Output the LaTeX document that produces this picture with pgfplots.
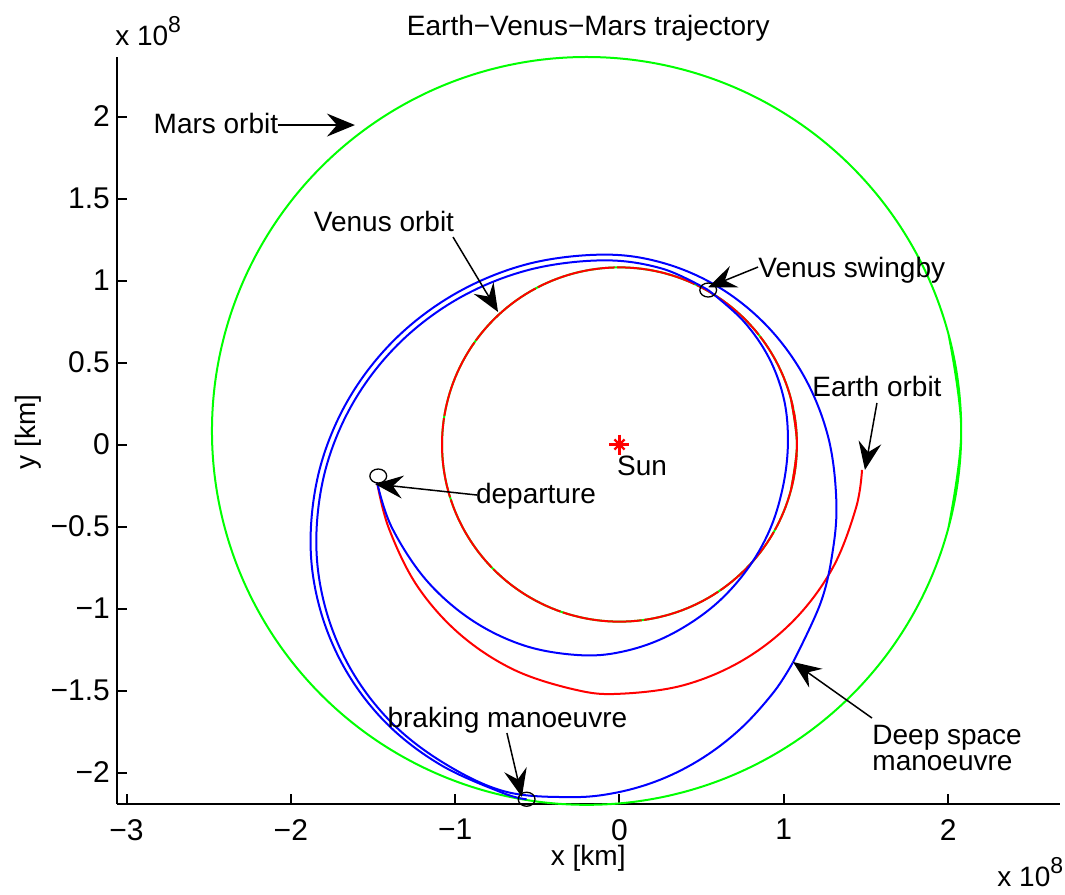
\documentclass[border=0pt]{standalone}
\usepackage{fontspec}
\setmainfont{Liberation Sans}
\usepackage{pgfplots}
\pgfplotsset{compat=1.18}
\usetikzlibrary{arrows.meta}
\newcommand\F{\fontsize{14}{16.5}\selectfont}
\newcommand\T{\fontsize{15}{17}\selectfont}
\newcommand\tenE{x 10\raisebox{6.5pt}{\fontsize{11.5}{11.5}\selectfont 8}}
\definecolor{mgreen}{RGB}{0,255,0}
\definecolor{mred}{RGB}{255,0,0}
\definecolor{mblue}{RGB}{0,0,255}
\tikzset{ann/.style={line width=0.75pt, black, -{Stealth[length=14pt,width=11.5pt,inset=5pt]}}}
\begin{document}
\begin{tikzpicture}[font=\F]
\useasboundingbox (-58.5pt,-45pt) rectangle (474pt,402pt);
\begin{axis}[
  scale only axis, width=471.5pt, height=373.5pt,
  xmin=-3.058, xmax=2.681, ymin=-2.192, ymax=2.363,
  axis x line*=bottom, axis y line*=left,
  axis line style={line width=1.1pt, black},
  tick align=inside, major tick length=5pt,
  tick style={black, line width=1pt},
  xtick={-3,-2,-1,0,1,2}, xticklabels={−3,−2,−1,0,1,2},
  ytick={-2,-1.5,-1,-0.5,0,0.5,1,1.5,2},
  yticklabels={−2,−1.5,−1,−0.5,0,0.5,1,1.5,2},
  xticklabel style={yshift=-4pt},
  tick label style={font=\T},
  scaled ticks=false,
  clip=false,
]
% Mars orbit
\addplot[mgreen, line width=1pt, smooth, tension=0.61] coordinates {
(2.0023,-0.5071) (2.08,0.083) (2.0023,0.6731) (1.7745,1.223) (1.4122,1.6952) (0.94,2.0575) (0.3901,2.2853)
(-0.2,2.363) (-0.7901,2.2853) (-1.34,2.0575) (-1.8122,1.6952) (-2.1745,1.223) (-2.4023,0.6731)
(-2.48,0.083) (-2.4023,-0.5071) (-2.1745,-1.057) (-1.8122,-1.5292) (-1.34,-1.8915) (-0.7901,-2.1193)
(-0.2,-2.197) (0.3901,-2.1193) (0.94,-1.8915) (1.4122,-1.5292) (1.7745,-1.057) (2.0023,-0.5071) (2.08,0.083)
(2.0023,0.6731)};
% Venus orbit (green under red)
\addplot[mgreen, line width=1pt, smooth, tension=0.61] coordinates {
(1.0432,-0.2795) (1.08,0) (1.0432,0.2795) (0.9353,0.54) (0.7637,0.7637) (0.54,0.9353) (0.2795,1.0432) (0,1.08)
(-0.2795,1.0432) (-0.54,0.9353) (-0.7637,0.7637) (-0.9353,0.54) (-1.0432,0.2795) (-1.08,0)
(-1.0432,-0.2795) (-0.9353,-0.54) (-0.7637,-0.7637) (-0.54,-0.9353) (-0.2795,-1.0432) (0,-1.08)
(0.2795,-1.0432) (0.54,-0.9353) (0.7637,-0.7637) (0.9353,-0.54) (1.0432,-0.2795) (1.08,0) (1.0432,0.2795)};
\addplot[mred, line width=1pt, smooth, tension=0.61, dash pattern=on 40pt off 1.2pt] coordinates {
(1.0432,-0.2795) (1.08,0) (1.0432,0.2795) (0.9353,0.54) (0.7637,0.7637) (0.54,0.9353) (0.2795,1.0432) (0,1.08)
(-0.2795,1.0432) (-0.54,0.9353) (-0.7637,0.7637) (-0.9353,0.54) (-1.0432,0.2795) (-1.08,0)
(-1.0432,-0.2795) (-0.9353,-0.54) (-0.7637,-0.7637) (-0.54,-0.9353) (-0.2795,-1.0432) (0,-1.08)
(0.2795,-1.0432) (0.54,-0.9353) (0.7637,-0.7637) (0.9353,-0.54) (1.0432,-0.2795) (1.08,0) (1.0432,0.2795)};
% Earth orbit arc
\addplot[mred, line width=1pt, smooth, tension=0.6] coordinates {
(-1.475,-0.232) (-1.4036,-0.5108) (-1.2312,-0.8621) (-0.9710,-1.1571) (-0.6408,-1.3742)
(-0.2638,-1.4963) (0,-1.52) (0.3930,-1.4669) (0.7573,-1.3116) (1.0665,-1.0665) (1.299,-0.75)
(1.4396,-0.3857) (1.4760,-0.1551)};
% spacecraft: departure -> Venus swingby
\addplot[mblue, line width=1pt, smooth, tension=0.6] coordinates {
(-1.4747,-0.2335) (-1.3861,-0.5045) (-1.1777,-0.8248) (-0.8986,-1.0709) (-0.5726,-1.2280)
(-0.2265,-1.2852) (0.0439,-1.2572) (0.3106,-1.1591) (0.570,-0.9872) (0.7707,-0.7707)
(0.9119,-0.5265) (0.9930,-0.2661) (1.025,0) (1.0027,0.2687) (0.9111,0.526) (0.7537,0.7537) (0.540,0.942)};
% swingby -> deep space manoeuvre
\addplot[mblue, line width=1pt, smooth, tension=0.6] coordinates {
(0.54,0.942) (0.2585,1.073) (-0.1,1.123) (-0.5516,1.065) (-0.9725,0.8948)
(-1.334,0.6242) (-1.6112,0.2715) (-1.7855,-0.1392) (-1.845,-0.58) (-1.7924,-0.9863)
(-1.638,-1.365) (-1.3925,-1.6901) (-1.0725,-1.94) (-0.70,-2.115) (-0.3,-2.15)
(-0.0188,-2.1226) (0.254,-2.0415) (0.51,-1.9088) (0.7413,-1.7288) (0.941,-1.507) (1.055,-1.33)};
% deep space manoeuvre -> braking
\addplot[mblue, line width=1pt, smooth, tension=0.6] coordinates {
(1.055,-1.33) (1.2223,-0.9707) (1.2954,-0.6651) (1.32,-0.35) (1.2716,0.0403) (1.1298,0.404)
(0.9041,0.7163) (0.61,0.956) (0.2675,1.1066) (-0.1,1.158) (-0.5607,1.1) (-0.99,0.925)
(-1.3587,0.649) (-1.6415,0.289) (-1.8193,-0.1302) (-1.88,-0.58) (-1.826,-0.990) (-1.668,-1.3725)
(-1.417,-1.701) (-1.09,-1.9527) (-0.709,-2.125) (-0.565,-2.163)};
% event markers
\addplot[only marks, black, mark=o, mark size=3.5pt, mark options={xscale=1.2, line width=0.65pt}]
  coordinates {(-1.468,-0.192) (0.540,0.942) (-0.565,-2.163)};
% Sun
\addplot[only marks, mred, mark=+, mark size=5pt, mark options={line width=1.1pt}] coordinates {(0,0)};
\addplot[only marks, mred, mark=x, mark size=3.6pt, mark options={line width=1.1pt}] coordinates {(0,0)};
% annotations
\draw[ann] (axis cs:-2.078,1.948) -- (axis cs:-1.61,1.948);
\draw[ann] (axis cs:-1.013,1.265) -- (axis cs:-0.739,0.808);
\draw[ann] (axis cs:0.843,1.082) -- (axis cs:0.540,0.959);
\draw[ann] (axis cs:1.567,0.253) -- (axis cs:1.494,-0.155);
\draw[ann] (axis cs:-0.867,-0.308) -- (axis cs:-1.488,-0.241);
\draw[ann] (axis cs:-0.685,-1.759) -- (axis cs:-0.594,-2.149);
\draw[ann] (axis cs:1.537,-1.668) -- (axis cs:1.056,-1.326);
\node[anchor=base] at (axis cs:-2.456,1.899) {Mars orbit};
\node[anchor=base] at (axis cs:-1.433,1.296) {Venus orbit};
\node[anchor=base west,inner sep=0pt] at (axis cs:0.843,1.021) {Venus swingby};
\node[anchor=base] at (axis cs:1.567,0.290) {Earth orbit};
\node[anchor=base] at (axis cs:-0.508,-0.357) {departure};
\node[anchor=base] at (axis cs:0.137,-0.186) {Sun};
\node[anchor=base] at (axis cs:-0.682,-1.723) {braking manoeuvre};
\node[anchor=base west,inner sep=0pt] at (axis cs:1.537,-1.832) {Deep space};
\node[anchor=base west,inner sep=0pt] at (axis cs:1.537,-1.985) {manoeuvre};
% titles and labels
\node[anchor=base] at (axis cs:-0.19,2.497) {Earth−Venus−Mars trajectory};
\node[anchor=base west,inner sep=0pt] at (axis cs:-3.071,2.436) {\tenE};
\node[anchor=base west,inner sep=0pt] at (axis cs:2.298,-2.698) {\tenE};
\node at (axis cs:-0.19,-2.521) {x [km]};
\node[rotate=90] at (axis cs:-3.6,0.076) {y [km]};
\end{axis}
\end{tikzpicture}
\end{document}
